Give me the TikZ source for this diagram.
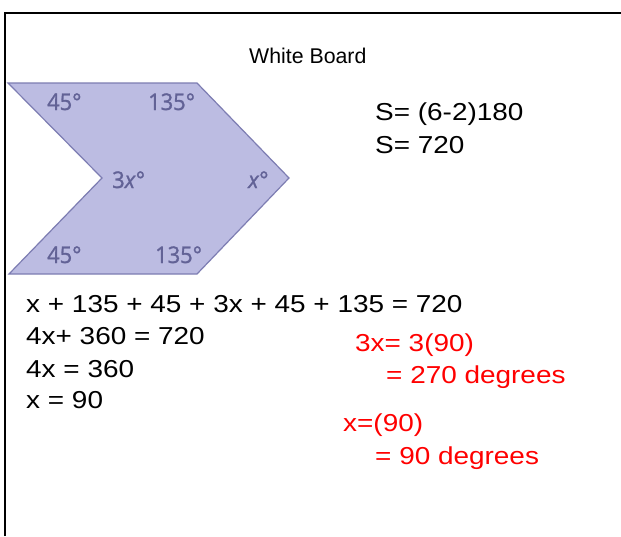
\documentclass[tikz,border=0pt]{standalone}
\usepackage{fontspec}
\setmainfont{Liberation Sans}
\newfontfamily\eqfont[FakeStretch=1.14]{Liberation Sans}
\newfontfamily\shapefont[FakeStretch=0.95,FakeBold=1.2]{Open Sans}
\definecolor{shapefill}{RGB}{188,188,226}
\definecolor{shapeedge}{RGB}{125,125,178}
\definecolor{anglabel}{RGB}{98,98,150}
\definecolor{redtext}{RGB}{255,0,0}
\begin{document}
\begin{tikzpicture}[x=1pt,y=-1pt,
  eq/.style={anchor=base west, inner sep=0pt, font=\eqfont\fontsize{24.5}{24.5}\selectfont},
  redeq/.style={eq, text=redtext},
  ang/.style={anchor=base west, inner sep=0pt, text=anglabel, font=\shapefont\fontsize{23}{23}\selectfont},
  title/.style={anchor=base west, inner sep=0pt, font=\fontsize{21.3}{21.3}\selectfont}]
\useasboundingbox (0,0) rectangle (621,536);
\fill[white] (0,0) rectangle (621,536);
\draw[line width=2pt] (5,536) -- (5,12.5) -- (621,12.5);
% shape
\filldraw[fill=shapefill, draw=shapeedge, line width=1.2pt]
  (8,83) -- (197,83) -- (289,178) -- (197,274) -- (9,274) -- (102,178) -- cycle;
\node[ang] (a1) at (47,110) {45°};
\node[ang] (a2) at (148,110) {135°};
\node[ang] (a3) at (112,188) {3\textit{x}°};
\node[ang] (a4) at (248,188) {\textit{x}°};
\node[ang] (a5) at (47,263) {45°};
\node[ang] (a6) at (155,263) {135°};
% title
\node[title] (t) at (249,63) {White Board};
% sum
\node[eq] (s1) at (375,120) {S= (6-2)180};
\node[eq] (s2) at (375,153) {S= 720};
% equations
\node[eq] (e1) at (26,312) {x + 135 + 45 + 3x + 45 + 135 = 720};
\node[eq] (e2) at (26,344) {4x+ 360 = 720};
\node[eq] (e3) at (26,377) {4x = 360};
\node[eq] (e4) at (26,408) {x = 90};
% red
\node[redeq] (r1) at (355,351) {3x= 3(90)};
\node[redeq] (r2) at (386,383) {= 270 degrees};
\node[redeq] (r3) at (343,431) {x=(90)};
\node[redeq] (r4) at (375,464) {= 90 degrees};
\end{tikzpicture}
\end{document}
